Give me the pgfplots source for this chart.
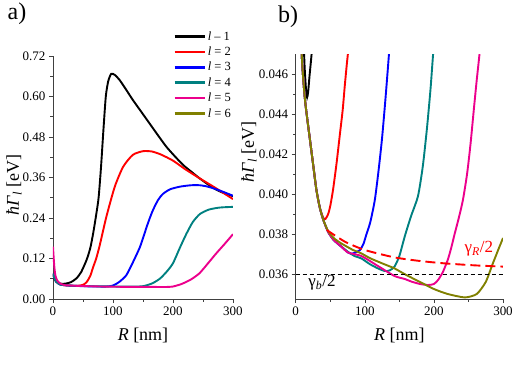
\documentclass[border=0pt]{standalone}
\usepackage{fontspec}
\setmainfont{Liberation Serif}
\usepackage{pgfplots}
\pgfplotsset{compat=1.18}
\definecolor{cteal}{RGB}{0,128,128}
\definecolor{colive}{RGB}{128,128,0}
\newcommand{\fs}[1]{\fontsize{#1}{#1}\selectfont}
\pgfplotsset{
  panel/.style={
    scale only axis, anchor=south west,
    axis x line*=bottom, axis y line*=left,
    axis line style={-, black!75, line width=0.6pt},
    tick align=outside,
    xmin=0, xmax=300, xtick={0,100,200,300}, xticklabels={0,100,200,300},
    minor x tick num=1, minor y tick num=1,
    major tick length=4pt, minor tick length=2.5pt,
    every tick/.style={black!75, line width=0.6pt},
    ticklabel style={font=\fs{13}},
    scaled y ticks=false,
    label style={font=\fs{18}},
    xlabel={\textit{R} [nm]},
    ylabel={\textit{ħΓ}\textsubscript{\textit{l}} [eV]},
    every axis plot/.append style={line width=1.9pt, no markers, smooth, tension=0.4},
  }
}
\begin{document}
\begin{tikzpicture}
\useasboundingbox (0pt,0pt) rectangle (523pt,365pt);

\begin{axis}[panel,
  at={(53pt,66pt)}, width=180pt, height=243pt,
  ymin=0, ymax=0.72, ytick={0,0.12,0.24,0.36,0.48,0.60,0.72},
  yticklabels={0.00,0.12,0.24,0.36,0.48,0.60,0.72},
  xlabel style={at={(axis description cs:0.5,-0.148)}, anchor=center},
  ylabel style={at={(axis description cs:-0.217,0.47)}, anchor=center},
  legend style={at={(1.0,1.11)}, anchor=north east, draw=none, fill=none,
    font=\fs{12.5}, inner sep=0pt, row sep=1.2pt},
  legend cell align=left,
  legend image code/.code={\draw[#1, line width=2.5pt] (0pt,0pt) -- (30pt,0pt);},
]
% l = 1
\addplot[black] coordinates {(0,0.075) (3,0.058) (8,0.048) (15,0.045) (22,0.046) (30,0.050) (39,0.061) (47,0.080) (56,0.116) (62,0.150) (67,0.195) (72,0.250) (76,0.300) (80,0.390) (84,0.500) (88,0.600) (92,0.645) (97,0.667) (103,0.664) (111,0.649) (122,0.620) (133,0.590) (147,0.555) (161,0.520) (175,0.485) (189,0.451) (203,0.423) (217,0.397) (230,0.378) (244,0.358) (258,0.340) (272,0.324) (286,0.313) (300,0.305)};
\addlegendentry{\textit{l} – 1}
% l = 2
\addplot[red] coordinates {(0,0.075) (5,0.052) (12,0.043) (25,0.040) (40,0.0388) (50,0.042) (56,0.050) (62,0.068) (67,0.095) (72,0.120) (78,0.160) (89,0.244) (103,0.333) (117,0.392) (133,0.427) (150,0.438) (165,0.437) (180,0.428) (200,0.410) (220,0.385) (244,0.358) (270,0.330) (300,0.296)};
\addlegendentry{\textit{l} = 2}
% l = 3
\addplot[blue] coordinates {(0,0.075) (5,0.052) (12,0.043) (25,0.040) (50,0.038) (75,0.037) (90,0.037) (100,0.040) (110,0.050) (122,0.070) (133,0.108) (144,0.150) (150,0.180) (156,0.213) (162,0.243) (167,0.265) (175,0.293) (183,0.311) (195,0.325) (212,0.333) (230,0.337) (245,0.337) (260,0.332) (280,0.320) (300,0.306)};
\addlegendentry{\textit{l} = 3}
% l = 4
\addplot[cteal] coordinates {(0,0.075) (5,0.052) (12,0.043) (25,0.040) (60,0.038) (100,0.037) (130,0.0365) (150,0.038) (165,0.046) (178,0.060) (190,0.082) (200,0.106) (211,0.150) (222,0.192) (233,0.228) (245,0.252) (260,0.265) (278,0.271) (300,0.273)};
\addlegendentry{\textit{l} = 4}
% l = 5
\addplot[magenta] coordinates {(0,0.155) (2,0.100) (4,0.070) (7,0.055) (12,0.046) (20,0.041) (40,0.039) (80,0.037) (120,0.036) (160,0.036) (185,0.0355) (200,0.037) (215,0.045) (230,0.058) (244,0.076) (258,0.105) (272,0.135) (286,0.163) (300,0.192)};
\addlegendentry{\textit{l} = 5}
\addlegendimage{colive}
\addlegendentry{\textit{l} = 6}
\end{axis}

\begin{axis}[panel,
  at={(295.7pt,66pt)}, width=207.3pt, height=245pt,
  ymin=0.03475, ymax=0.047, ytick={0.036,0.038,0.040,0.042,0.044,0.046},
  yticklabels={0.036,0.038,0.040,0.042,0.044,0.046},
  xlabel style={at={(axis description cs:0.5,-0.147)}, anchor=center},
  ylabel style={at={(axis description cs:-0.225,0.6)}, anchor=center},
]
% l = 1
\addplot[black] coordinates {(11,0.0480) (13,0.0463) (15,0.0452) (16.5,0.04483) (18,0.0451) (20,0.0459) (22.5,0.0468) (25,0.0478)};
% l = 2
\addplot[red] coordinates {(4,0.0520) (8.7,0.0470) (13.5,0.0447) (20.7,0.0427) (25.5,0.0414) (30,0.0402) (35,0.0393) (40,0.03880) (43,0.03875) (47,0.0390) (50,0.0394) (54,0.0402) (59,0.0415) (64,0.0430) (68,0.0442) (71,0.0454) (74,0.0465) (76,0.0472) (78,0.0485)};
% l = 3
\addplot[blue] coordinates {(4,0.0520) (8.7,0.0470) (13.5,0.0447) (20.7,0.0427) (25.5,0.0414) (30,0.0402) (35,0.0393) (40,0.0387) (47,0.0381) (55,0.0377) (65,0.0374) (76,0.03707) (82,0.03702) (88,0.0371) (93,0.0372) (98,0.0375) (102.5,0.0380) (108,0.0386) (114.5,0.0397) (120,0.0412) (125,0.0428) (130,0.0448) (135,0.0470) (138,0.0484)};
% l = 4
\addplot[cteal] coordinates {(4,0.0520) (8.7,0.0470) (13.5,0.0447) (20.7,0.0427) (25.5,0.0414) (30,0.0402) (35,0.0393) (40,0.0387) (47,0.0381) (55,0.0377) (65,0.0374) (76,0.0371) (85,0.0369) (95,0.03678) (107,0.0365) (119,0.03628) (129,0.03615) (136,0.03618) (143,0.03637) (150,0.0369) (158,0.0379) (167,0.0389) (177,0.0399) (184,0.0414) (190,0.0433) (195,0.0452) (198,0.0466) (201,0.0480)};
% l = 5
\addplot[magenta] coordinates {(4,0.0520) (8.7,0.0470) (13.5,0.0447) (20.7,0.0427) (25.5,0.0414) (30,0.0402) (35,0.0393) (40,0.0387) (47,0.0381) (55,0.0377) (65,0.0374) (76,0.03707) (95,0.0369) (119,0.0364) (143,0.0359) (158,0.03575) (167.5,0.03562) (180,0.0355) (191.5,0.03545) (200,0.0355) (206,0.0357) (213,0.0361) (220,0.0367) (225,0.0373) (230,0.0380) (236,0.0388) (242,0.0397) (248,0.0410) (253,0.0425) (258,0.0443) (262,0.0457) (266,0.0470) (269,0.0482)};
% l = 6
\addplot[colive] coordinates {(4,0.0520) (8.7,0.0470) (13.5,0.0447) (20.7,0.0427) (25.5,0.0414) (30,0.0402) (35,0.0393) (40,0.0387) (47,0.03815) (55,0.0378) (65,0.03755) (75,0.03735) (83,0.0372) (95,0.03703) (107,0.0368) (119,0.03662) (131,0.03645) (143,0.03628) (160,0.03595) (180,0.0356) (200,0.03525) (220,0.0350) (245,0.03483) (262,0.0350) (275,0.0356) (285,0.0365) (293,0.0372) (300,0.0378)};
% gamma_R / 2
\addplot[red, line width=1.9pt, dash pattern=on 10pt off 5pt] coordinates {(45,0.0382) (71,0.03762) (100,0.0372) (143,0.03683) (180,0.03665) (216,0.03653) (260,0.03643) (300,0.03637)};
% gamma_b / 2
\addplot[black, line width=0.8pt, dash pattern=on 4pt off 3pt, sharp plot] coordinates {(0,0.036) (300,0.036)};
\node[red, font=\fs{17}] at (axis cs:265,0.03725) {γ\textsubscript{\textit{R}}/2};
\node[black, font=\fs{17}] at (axis cs:38,0.03555) {γ\textsubscript{\textit{b}}/2};
\end{axis}

\node[font=\fs{24}] at (17pt,351pt) {a)};
\node[font=\fs{24}] at (288pt,348pt) {b)};
\end{tikzpicture}
\end{document}
